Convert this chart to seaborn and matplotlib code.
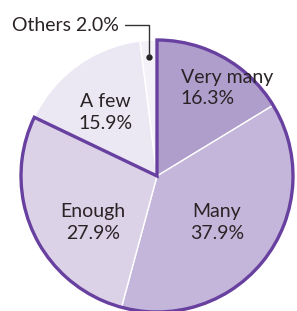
import numpy as np
import matplotlib
matplotlib.use('Agg')
import matplotlib.pyplot as plt
import seaborn as sns

# pie data, clockwise from 12 o'clock
labels = ['Very many', 'Many', 'Enough', 'A few', 'Others']
shares = [16.3, 37.9, 27.9, 15.9, 2.0]
colors = ['#af9dcc', '#c4b6da', '#dcd2e8', '#ebe7f3', '#f4f2f8']
# slices framed by the thick purple outline
framed = ['Very many', 'Many', 'Enough']

# label anchor spots (pie-radius units) and alignment
label_pos = {'Very many': (0.176, 0.647, 'left'),
             'Many': (0.44, -0.34, 'center'),
             'Enough': (-0.47, -0.34, 'center'),
             'A few': (-0.38, 0.47, 'center')}

sns.set_style('white')
plt.rcParams['font.family'] = ['Lato', 'DejaVu Sans']

fig = plt.figure(figsize=(2.97, 3.11), dpi=100)
# pie centre at (157, 176) px, radius 136 px
r_px = 136
lim = 1.25
side = 2 * lim * r_px
ax = fig.add_axes([(157 - side / 2) / 297, (311 - 176 - side / 2) / 311,
                   side / 297, side / 311])

wedges, _ = ax.pie(shares, colors=colors, startangle=90, counterclock=False,
                   wedgeprops=dict(edgecolor='white', linewidth=1.0))

# outline around the framed group
framed_total = sum(s for l, s in zip(labels, shares) if l in framed)
outline, _ = ax.pie([framed_total, 100 - framed_total], colors=['none', 'none'],
                    startangle=90, counterclock=False,
                    wedgeprops=dict(edgecolor='#6841a0', linewidth=2.4,
                                    joinstyle='miter'))
outline[1].set_edgecolor('none')
for w in outline:
    w.set_clip_on(False)

text_color = '#2a2325'
for lab, share in zip(labels, shares):
    if lab in label_pos:
        x, y, ha = label_pos[lab]
        ax.text(x, y, f'{lab}\n{share:.1f}%', ha=ha, va='center',
                fontsize=14, color=text_color,
                linespacing=1.35, multialignment=ha)

# Others: leader line out of the thin slice
start = 90
others_mid = start - 360 * (sum(shares[:-1]) + shares[-1] / 2) / 100
px, py = 0.88 * np.cos(np.radians(others_mid)), 0.88 * np.sin(np.radians(others_mid))
ax.plot([px], [py], 'o', color='#222222', markersize=3.5, clip_on=False)
ax.annotate(f'{labels[-1]} {shares[-1]:.1f}%', xy=(px, py), xytext=(-0.28, 1.11),
            ha='right', va='center', fontsize=14,
            color=text_color, annotation_clip=False,
            arrowprops=dict(arrowstyle='-', color='#333333', lw=1.0,
                            connectionstyle='angle,angleA=0,angleB=90,rad=0',
                            shrinkA=2, shrinkB=0))

ax.set_xlim(-lim, lim)
ax.set_ylim(-lim, lim)
ax.set_aspect('equal')
ax.axis('off')

fig.savefig('out.png', dpi=100)
